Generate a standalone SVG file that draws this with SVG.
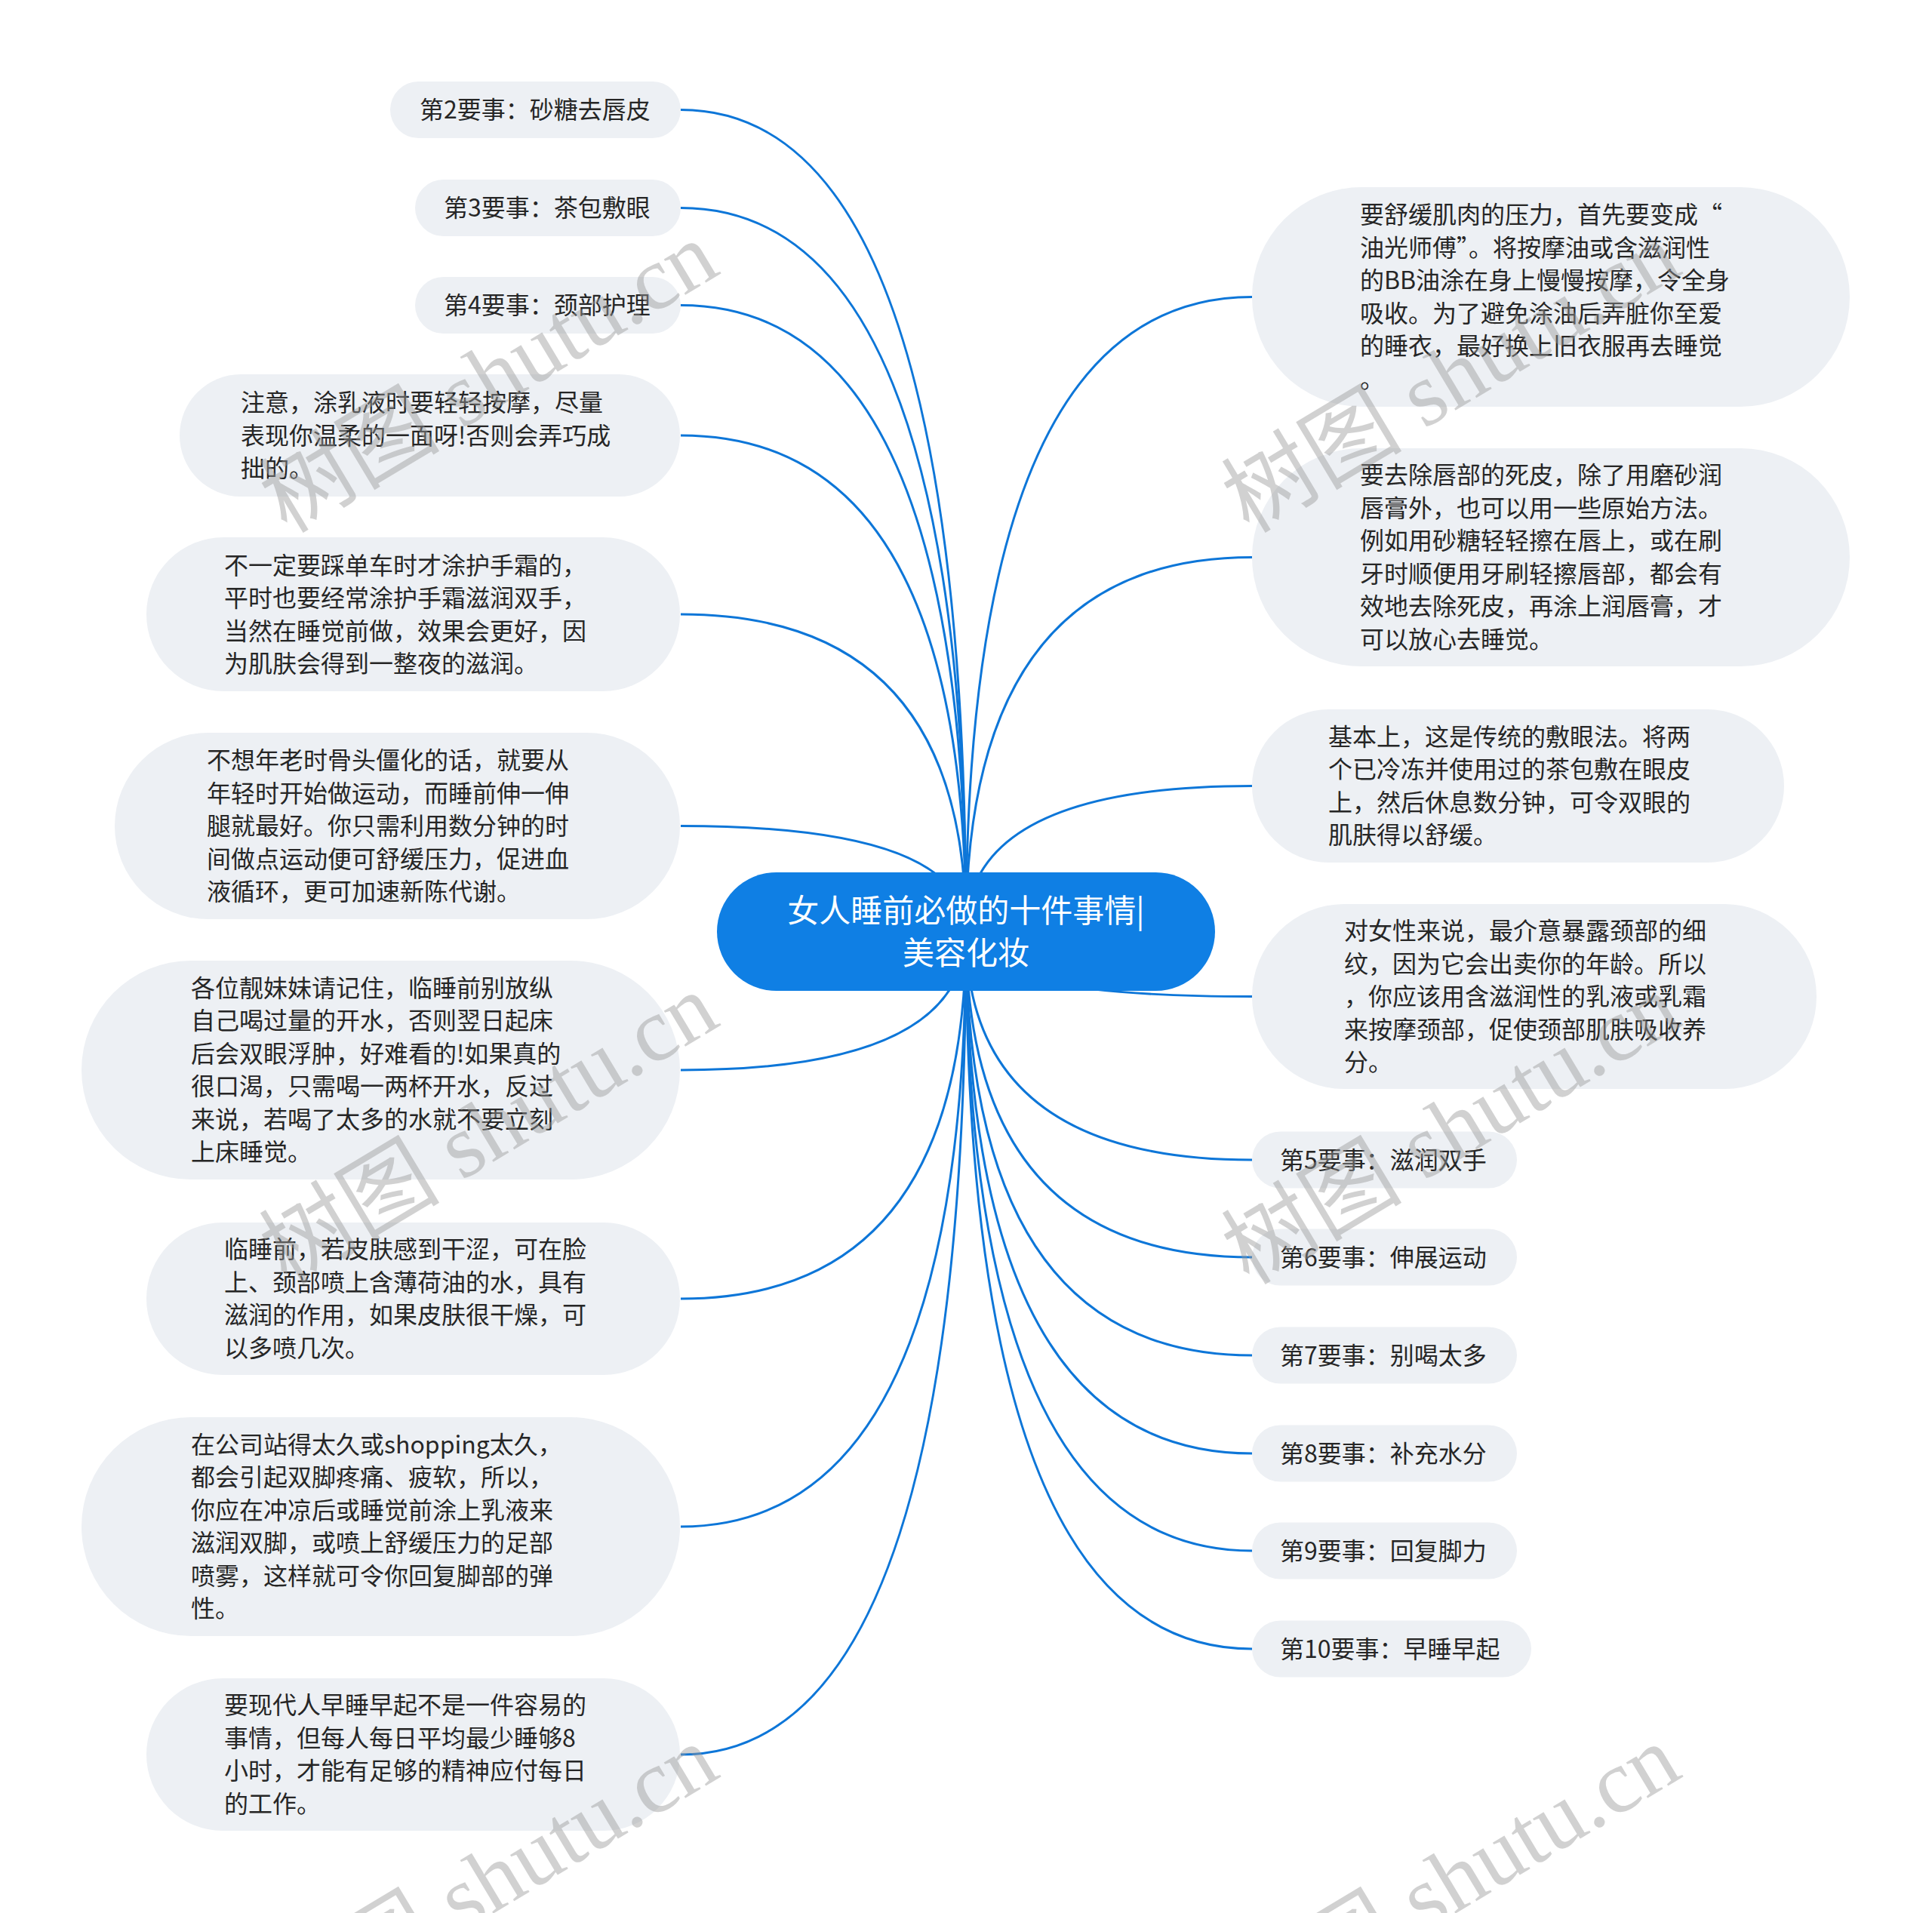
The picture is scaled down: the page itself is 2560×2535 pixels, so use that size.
<svg xmlns="http://www.w3.org/2000/svg" width="2560" height="2535" viewBox="0 0 2560 2535">
<style>
.bg{fill:#ffffff}
.node{fill:#edf0f4}
.root{fill:#0f7fe4}
.t{font-family:"Noto Sans CJK SC","Microsoft YaHei",sans-serif;font-size:32px;fill:#262626}
.rt{font-family:"Noto Sans CJK SC","Microsoft YaHei",sans-serif;font-size:42px;fill:#ffffff;text-anchor:middle}
.c{fill:none;stroke:#0d76d8;stroke-width:3}
.wm{font-family:"Liberation Serif","Noto Sans CJK SC",serif;font-size:120px;fill:#9a9a9a;fill-opacity:0.45}
</style>
<rect class="bg" x="0" y="0" width="2560" height="2535"/>
<g id="connectors">
<path class="c" d="M902 145.5 Q1280 145.5 1280 1234"/>
<path class="c" d="M902 275.5 Q1280 275.5 1280 1234"/>
<path class="c" d="M902 404.5 Q1280 404.5 1280 1234"/>
<path class="c" d="M902 577 Q1280 577 1280 1234"/>
<path class="c" d="M902 814 Q1280 814 1280 1234"/>
<path class="c" d="M902 1094.5 Q1280 1094.5 1280 1234"/>
<path class="c" d="M902 1418 Q1280 1418 1280 1234"/>
<path class="c" d="M902 1721 Q1280 1721 1280 1234"/>
<path class="c" d="M902 2023 Q1280 2023 1280 1234"/>
<path class="c" d="M902 2325 Q1280 2325 1280 1234"/>
<path class="c" d="M1659 393.5 Q1280 393.5 1280 1234"/>
<path class="c" d="M1659 738.5 Q1280 738.5 1280 1234"/>
<path class="c" d="M1659 1041.5 Q1280 1041.5 1280 1234"/>
<path class="c" d="M1659 1320.5 Q1280 1320.5 1280 1234"/>
<path class="c" d="M1659 1537 Q1280 1537 1280 1234"/>
<path class="c" d="M1659 1666 Q1280 1666 1280 1234"/>
<path class="c" d="M1659 1796 Q1280 1796 1280 1234"/>
<path class="c" d="M1659 1926 Q1280 1926 1280 1234"/>
<path class="c" d="M1659 2055 Q1280 2055 1280 1234"/>
<path class="c" d="M1659 2185 Q1280 2185 1280 1234"/>
</g>
<g id="root">
<rect class="root" x="950" y="1156" width="660" height="157" rx="78.5"/>
<text class="rt" x="1280" y="1222">女人睡前必做的十件事情|</text>
<text class="rt" x="1280" y="1278">美容化妆</text>
</g>
<g id="n2"><rect class="node" x="517" y="108" width="385" height="75" rx="37.5"/><text class="t" x="556" y="157">第2要事：砂糖去唇皮</text></g>
<g id="n3"><rect class="node" x="550" y="238" width="352" height="75" rx="37.5"/><text class="t" x="588" y="287">第3要事：茶包敷眼</text></g>
<g id="n4"><rect class="node" x="550" y="367" width="352" height="75" rx="37.5"/><text class="t" x="588" y="416">第4要事：颈部护理</text></g>
<g id="l4"><rect class="node" x="238" y="496" width="663" height="162" rx="81"/>
<text class="t" x="319" y="545">注意，涂乳液时要轻轻按摩，尽量</text>
<text class="t" x="319" y="588.5">表现你温柔的一面呀!否则会弄巧成</text>
<text class="t" x="319" y="632">拙的。</text></g>
<g id="l5"><rect class="node" x="194" y="712" width="707" height="204" rx="102"/>
<text class="t" x="297" y="760.5">不一定要踩单车时才涂护手霜的，</text>
<text class="t" x="297" y="804">平时也要经常涂护手霜滋润双手，</text>
<text class="t" x="297" y="847.5">当然在睡觉前做，效果会更好，因</text>
<text class="t" x="297" y="891">为肌肤会得到一整夜的滋润。</text></g>
<g id="l6"><rect class="node" x="152" y="971" width="749" height="247" rx="123.5"/>
<text class="t" x="274" y="1019">不想年老时骨头僵化的话，就要从</text>
<text class="t" x="274" y="1062.5">年轻时开始做运动，而睡前伸一伸</text>
<text class="t" x="274" y="1106">腿就最好。你只需利用数分钟的时</text>
<text class="t" x="274" y="1149.5">间做点运动便可舒缓压力，促进血</text>
<text class="t" x="274" y="1193">液循环，更可加速新陈代谢。</text></g>
<g id="l7"><rect class="node" x="108" y="1273" width="793" height="290" rx="145"/>
<text class="t" x="253" y="1320.75">各位靓妹妹请记住，临睡前别放纵</text>
<text class="t" x="253" y="1364.25">自己喝过量的开水，否则翌日起床</text>
<text class="t" x="253" y="1407.75">后会双眼浮肿，好难看的!如果真的</text>
<text class="t" x="253" y="1451.25">很口渴，只需喝一两杯开水，反过</text>
<text class="t" x="253" y="1494.75">来说，若喝了太多的水就不要立刻</text>
<text class="t" x="253" y="1538.25">上床睡觉。</text></g>
<g id="l8"><rect class="node" x="194" y="1620" width="707" height="202" rx="101"/>
<text class="t" x="297" y="1667.25">临睡前，若皮肤感到干涩，可在脸</text>
<text class="t" x="297" y="1710.75">上、颈部喷上含薄荷油的水，具有</text>
<text class="t" x="297" y="1754.25">滋润的作用，如果皮肤很干燥，可</text>
<text class="t" x="297" y="1797.75">以多喷几次。</text></g>
<g id="l9"><rect class="node" x="108" y="1878" width="793" height="290" rx="145"/>
<text class="t" x="253" y="1925.75">在公司站得太久或shopping太久，</text>
<text class="t" x="253" y="1969.25">都会引起双脚疼痛、疲软，所以，</text>
<text class="t" x="253" y="2012.75">你应在冲凉后或睡觉前涂上乳液来</text>
<text class="t" x="253" y="2056.25">滋润双脚，或喷上舒缓压力的足部</text>
<text class="t" x="253" y="2099.75">喷雾，这样就可令你回复脚部的弹</text>
<text class="t" x="253" y="2143.25">性。</text></g>
<g id="l10"><rect class="node" x="194" y="2224" width="707" height="202" rx="101"/>
<text class="t" x="297" y="2271.25">要现代人早睡早起不是一件容易的</text>
<text class="t" x="297" y="2314.75">事情，但每人每日平均最少睡够8</text>
<text class="t" x="297" y="2358.25">小时，才能有足够的精神应付每日</text>
<text class="t" x="297" y="2401.75">的工作。</text></g>
<g id="r1"><rect class="node" x="1659" y="248" width="792" height="291" rx="145.5"/>
<text class="t" x="1802" y="296.25">要舒缓肌肉的压力，首先要变成“</text>
<text class="t" x="1802" y="339.75">油光师傅”。将按摩油或含滋润性</text>
<text class="t" x="1802" y="383.25">的BB油涂在身上慢慢按摩，令全身</text>
<text class="t" x="1802" y="426.75">吸收。为了避免涂油后弄脏你至爱</text>
<text class="t" x="1802" y="470.25">的睡衣，最好换上旧衣服再去睡觉</text>
<text class="t" x="1802" y="513.75">。</text></g>
<g id="r2"><rect class="node" x="1659" y="594" width="792" height="289" rx="144.5"/>
<text class="t" x="1802" y="641.25">要去除唇部的死皮，除了用磨砂润</text>
<text class="t" x="1802" y="684.75">唇膏外，也可以用一些原始方法。</text>
<text class="t" x="1802" y="728.25">例如用砂糖轻轻擦在唇上，或在刷</text>
<text class="t" x="1802" y="771.75">牙时顺便用牙刷轻擦唇部，都会有</text>
<text class="t" x="1802" y="815.25">效地去除死皮，再涂上润唇膏，才</text>
<text class="t" x="1802" y="858.75">可以放心去睡觉。</text></g>
<g id="r3"><rect class="node" x="1659" y="940" width="705" height="203" rx="101.5"/>
<text class="t" x="1760" y="987.75">基本上，这是传统的敷眼法。将两</text>
<text class="t" x="1760" y="1031.25">个已冷冻并使用过的茶包敷在眼皮</text>
<text class="t" x="1760" y="1074.75">上，然后休息数分钟，可令双眼的</text>
<text class="t" x="1760" y="1118.25">肌肤得以舒缓。</text></g>
<g id="r4"><rect class="node" x="1659" y="1198" width="748" height="245" rx="122.5"/>
<text class="t" x="1781" y="1245">对女性来说，最介意暴露颈部的细</text>
<text class="t" x="1781" y="1288.5">纹，因为它会出卖你的年龄。所以</text>
<text class="t" x="1781" y="1332">，你应该用含滋润性的乳液或乳霜</text>
<text class="t" x="1781" y="1375.5">来按摩颈部，促使颈部肌肤吸收养</text>
<text class="t" x="1781" y="1419">分。</text></g>
<g id="r5"><rect class="node" x="1659" y="1499.5" width="351" height="75" rx="37.5"/><text class="t" x="1696" y="1548.5">第5要事：滋润双手</text></g>
<g id="r6"><rect class="node" x="1659" y="1628.5" width="351" height="75" rx="37.5"/><text class="t" x="1696" y="1677.5">第6要事：伸展运动</text></g>
<g id="r7"><rect class="node" x="1659" y="1758.5" width="351" height="75" rx="37.5"/><text class="t" x="1696" y="1807.5">第7要事：别喝太多</text></g>
<g id="r8"><rect class="node" x="1659" y="1888.5" width="351" height="75" rx="37.5"/><text class="t" x="1696" y="1937.5">第8要事：补充水分</text></g>
<g id="r9"><rect class="node" x="1659" y="2017.5" width="351" height="75" rx="37.5"/><text class="t" x="1696" y="2066.5">第9要事：回复脚力</text></g>
<g id="r10"><rect class="node" x="1659" y="2147.5" width="370" height="75" rx="37.5"/><text class="t" x="1696" y="2196.5">第10要事：早睡早起</text></g>
<g id="watermarks">
<text class="wm" transform="translate(380 708) rotate(-31)">树图 shutu.cn</text>
<text class="wm" transform="translate(1655 708) rotate(-31)">树图 shutu.cn</text>
<text class="wm" transform="translate(380 1704) rotate(-31)">树图 shutu.cn</text>
<text class="wm" transform="translate(1655 1704) rotate(-31)">树图 shutu.cn</text>
<text class="wm" transform="translate(380 2700) rotate(-31)">树图 shutu.cn</text>
<text class="wm" transform="translate(1655 2700) rotate(-31)">树图 shutu.cn</text>
</g>
</svg>
